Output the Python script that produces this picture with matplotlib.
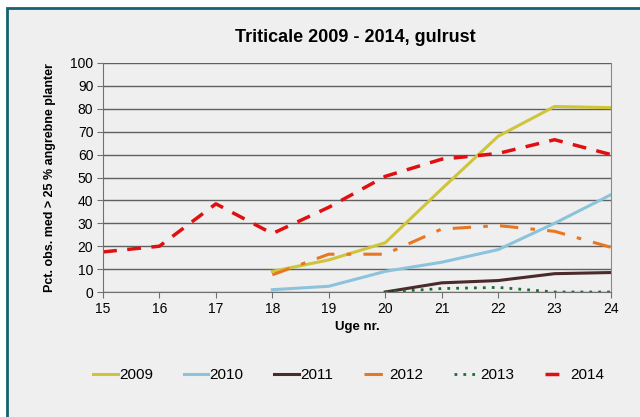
import matplotlib.pyplot as plt
from matplotlib.patches import Rectangle

plt.rcParams['font.family'] = ['Liberation Sans', 'DejaVu Sans']

uger_2014 = [15, 16, 17, 18, 19, 20, 21, 22, 23, 24]
uger_fra18 = [18, 19, 20, 21, 22, 23, 24]
uger_fra20 = [20, 21, 22, 23, 24]

v2009 = [9, 14, 21.5, 45, 68, 81, 80.5]
v2010 = [1, 2.5, 9, 13, 18.5, 30, 42.5]
v2011 = [0, 4, 5, 8, 8.5]
v2012 = [7.5, 16.5, 16.5, 27.5, 29, 26.5, 19.5]
v2013 = [0, 1.5, 2, 0, 0]
v2014 = [17.5, 20, 38.5, 25.5, 37, 50.5, 58, 60.5, 66.5, 60]

bg = '#efefef'
fig = plt.figure(figsize=(6.4, 4.17), dpi=100)
fig.patch.set_facecolor('white')
# grey panel with teal border on top and left
fig.patches.append(Rectangle((7/640, -0.01), 1.0, 1 - 8/417 + 0.01, transform=fig.transFigure,
                             facecolor=bg, edgecolor='#176270', linewidth=2, zorder=-10))

ax = fig.add_axes([103/640, 1 - 292/417, 508/640, 229/417])
ax.set_facecolor(bg)

ax.plot(uger_fra18, v2009, color='#cfc43a', lw=2.2, label='2009')
ax.plot(uger_fra18, v2010, color='#8cc3dc', lw=2.2, label='2010')
ax.plot(uger_fra20, v2011, color='#4a2a2a', lw=2.2, label='2011')
ax.plot(uger_fra18, v2012, color='#e87722', lw=2.2, dashes=(6, 4, 1.5, 4), label='2012')
ax.plot(uger_fra20, v2013, color='#1e6e32', lw=2.0, dashes=(1, 2.2), label='2013')
ax.plot(uger_2014, v2014, color='#e01010', lw=2.5, dashes=(4, 3), label='2014')

ax.set_xlim(15, 24)
ax.set_ylim(0, 100)
ax.set_xticks(range(15, 25))
ax.set_yticks(range(0, 101, 10))
ax.yaxis.grid(True, color='#606060', lw=1)
ax.set_axisbelow(True)
ax.spines['top'].set_visible(False)
ax.spines['right'].set_color('#8a8a8a')
ax.spines['left'].set_color('#707070')
ax.spines['bottom'].set_color('#707070')
ax.tick_params(labelsize=10, length=4, color='#707070', pad=3)

ax.set_xlabel('Uge nr.', fontsize=9.5, fontweight='bold', labelpad=4)
ax.set_ylabel('Pct. obs. med > 25 % angrebne planter', fontsize=9, fontweight='bold', labelpad=10)
fig.text(0.555, 1 - 37/417, 'Triticale 2009 - 2014, gulrust', ha='center', va='center',
         fontsize=13, fontweight='bold')

fig.legend(loc='center', bbox_to_anchor=(0.545, 1 - 375/417), ncol=6, frameon=False,
           fontsize=11, handlelength=1.6, handletextpad=0.1, columnspacing=2.0)

fig.savefig('out.png', dpi=100, facecolor=fig.get_facecolor())
